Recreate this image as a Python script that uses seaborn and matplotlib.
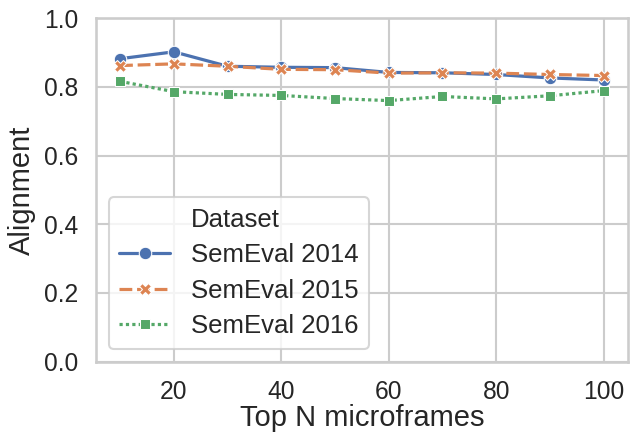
import matplotlib
matplotlib.use("Agg")
import matplotlib.pyplot as plt
import numpy as np
import pandas as pd
import seaborn as sns
from matplotlib.lines import Line2D

top_n = [10, 20, 30, 40, 50, 60, 70, 80, 90, 100]
semeval_2014 = [0.882, 0.902, 0.860, 0.857, 0.856, 0.842, 0.841, 0.836, 0.826, 0.820]
semeval_2015 = [0.862, 0.867, 0.860, 0.851, 0.850, 0.840, 0.841, 0.840, 0.836, 0.833]
semeval_2016 = [0.816, 0.786, 0.778, 0.775, 0.766, 0.760, 0.772, 0.765, 0.774, 0.789]
dataset_names = ["SemEval 2014", "SemEval 2015", "SemEval 2016"]

frames = []
for name, vals in zip(dataset_names, [semeval_2014, semeval_2015, semeval_2016]):
    frames.append(pd.DataFrame({"Top N microframes": top_n, "Alignment": vals, "Dataset": name}))
df = pd.concat(frames, ignore_index=True)

sns.set_theme(context="talk", style="whitegrid")
plt.rcParams["font.family"] = ["Liberation Sans", "DejaVu Sans"]
plt.rcParams.update({"xtick.labelsize": 17.7, "ytick.labelsize": 17.7,
                     "axes.labelsize": 21, "legend.fontsize": 18.5,
                     "xtick.major.pad": 4})

fig, ax = plt.subplots(figsize=(6.31, 4.33), dpi=100)
sns.lineplot(data=df, x="Top N microframes", y="Alignment", hue="Dataset",
             style="Dataset", markers=True, markersize=9, linewidth=2.3, ax=ax)
ax.set_ylim(0, 1.0)
ax.set_xlabel("Top N microframes", labelpad=0)
ax.set_ylabel("Alignment", labelpad=6)

# old-style legend: title as its own row
handles, labels = ax.get_legend_handles_labels()
blank = Line2D([], [], linestyle="none", marker=None)

# squares (2016) look small next to the circles, bump them up
ax.lines[2].set_markersize(11)
handles[2].set_markersize(11)

ax.legend([blank] + handles, ["Dataset"] + labels, loc="lower left",
          handlelength=2.0, labelspacing=0.45)

fig.subplots_adjust(left=0.152, right=0.995, top=0.958, bottom=0.165)
fig.savefig("out.png", dpi=100)
